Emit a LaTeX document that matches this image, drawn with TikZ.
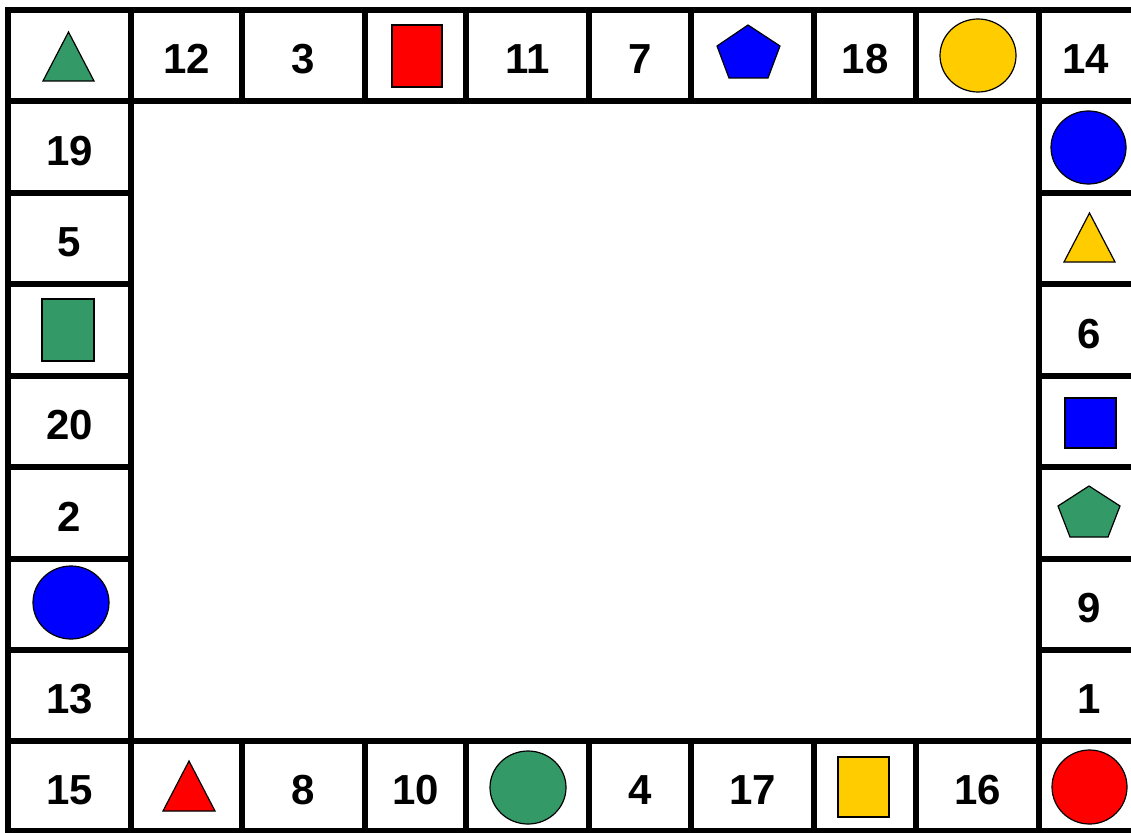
\documentclass[tikz,border=0pt]{standalone}
\usepackage{fontspec}
\setmainfont{Liberation Sans}
\definecolor{sgreen}{HTML}{339966}
\definecolor{syellow}{HTML}{FFCC00}
\definecolor{sblue}{HTML}{0000FF}
\definecolor{sred}{HTML}{FF0000}
\tikzset{
  cell/.style={draw=black, line width=6pt, rectangle, inner sep=0pt, outer sep=0pt,
    font=\fontsize{42}{48}\selectfont\bfseries, text height=36pt, text depth=0pt},
  shp/.style={draw=black, line width=1.2pt, line join=miter}
}
\newcommand\cellb[6]{%
  \pgfmathsetmacro\cw{#3-#2}\pgfmathsetmacro\ch{#5-#4}%
  \pgfmathsetmacro\cx{(#2+#3)/2}\pgfmathsetmacro\cy{(#4+#5)/2}%
  \node[cell, minimum width=\cw pt, minimum height=\ch pt] (#1) at (\cx,\cy) {#6};}
\newcommand\shtri[5]{\draw[shp, fill=#5] ({(#1+#2)/2},#3) -- (#2,#4) -- (#1,#4) -- cycle;}
\newcommand\shrct[5]{\draw[shp, fill=#5] (#1,#3) rectangle (#2,#4);}
\newcommand\shell[5]{\draw[shp, fill=#5] (#1,#2) ellipse [x radius=#3pt, y radius=#4pt];}
\begin{document}
\begin{tikzpicture}[x=1pt, y=-1pt]
\useasboundingbox (0,0) rectangle (1131,832);
\clip (0,0) rectangle (1131,832);
% top row
\cellb{t0}{8}{131}{10}{101}{}
\cellb{t1}{131}{242}{10}{101}{12}
\cellb{t2}{242}{365}{10}{101}{3}
\cellb{t3}{365}{466}{10}{101}{}
\cellb{t4}{466}{589}{10}{101}{11}
\cellb{t5}{589}{691}{10}{101}{7}
\cellb{t6}{691}{814}{10}{101}{}
\cellb{t7}{814}{916}{10}{101}{18}
\cellb{t8}{916}{1039}{10}{101}{}
\cellb{t9}{1039}{1140}{10}{101}{\hspace*{-8pt}14}
% left column
\cellb{l1}{8}{131}{101}{193}{19}
\cellb{l2}{8}{131}{193}{284}{5}
\cellb{l3}{8}{131}{284}{376}{}
\cellb{l4}{8}{131}{376}{467}{20}
\cellb{l5}{8}{131}{467}{559}{2}
\cellb{l6}{8}{131}{559}{650}{}
\cellb{l7}{8}{131}{650}{741}{13}
% right column
\cellb{r1}{1039}{1140}{101}{193}{}
\cellb{r2}{1039}{1140}{193}{284}{}
\cellb{r3}{1039}{1140}{284}{376}{6}
\cellb{r4}{1039}{1140}{376}{467}{}
\cellb{r5}{1039}{1140}{467}{559}{}
\cellb{r6}{1039}{1140}{559}{650}{9}
\cellb{r7}{1039}{1140}{650}{741}{1}
% bottom row
\cellb{b0}{8}{131}{741}{831}{15}
\cellb{b1}{131}{242}{741}{831}{}
\cellb{b2}{242}{365}{741}{831}{8}
\cellb{b3}{365}{466}{741}{831}{10}
\cellb{b4}{466}{589}{741}{831}{}
\cellb{b5}{589}{691}{741}{831}{4}
\cellb{b6}{691}{814}{741}{831}{17}
\cellb{b7}{814}{916}{741}{831}{}
\cellb{b8}{916}{1039}{741}{831}{16}
\cellb{b9}{1039}{1140}{741}{831}{}
% shapes
\shtri{43}{94}{32}{81}{sgreen}
\shrct{392}{442}{25}{87}{sred}
\draw[shp, fill=sblue] (748,25) -- (780,46) -- (768,78) -- (729,78) -- (717,46) -- cycle;
\shell{978}{55.5}{38}{36.5}{syellow}
\shell{1088.5}{147.5}{37.5}{36.5}{sblue}
\shtri{1064}{1115}{213}{262}{syellow}
\shrct{1065}{1116}{398}{448}{sblue}
\draw[shp, fill=sgreen] (1089,486) -- (1120,506) -- (1108,537) -- (1070,537) -- (1058,506) -- cycle;
\shrct{42}{94}{299}{361}{sgreen}
\shell{71}{602.5}{38}{36.5}{sblue}
\shtri{163}{215}{761}{811}{sred}
\shell{528}{787.5}{38}{36.5}{sgreen}
\shrct{838}{889}{757}{817}{syellow}
\shell{1089.5}{787}{37.5}{37}{sred}
\end{tikzpicture}
\end{document}
